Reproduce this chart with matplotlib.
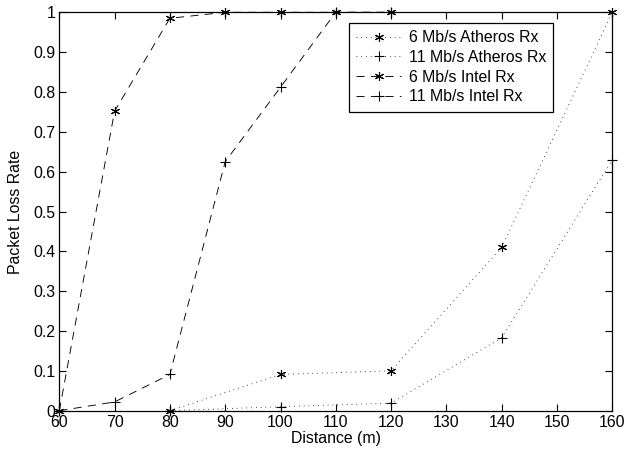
import numpy as np
import matplotlib
matplotlib.use("Agg")
import matplotlib.pyplot as plt

# packet loss vs distance, per card and rate
atheros_dist = [80, 100, 120, 140, 160]
atheros_6 = [0.0, 0.091, 0.10, 0.41, 1.0]
atheros_11 = [0.0, 0.010, 0.019, 0.183, 0.63]

intel_dist = [60, 70, 80, 90, 100, 110, 120]
intel_6 = [0.0, 0.752, 0.985, 1.0, 1.0, 1.0, 1.0]
intel_11 = [0.0, 0.022, 0.091, 0.625, 0.812, 1.0, 1.0]

xticks = list(range(60, 161, 10))
yticks = [round(0.1 * i, 1) for i in range(11)]
ytick_labels = ["0"] + [f"{v:g}" for v in yticks[1:-1]] + ["1"]

plt.rcParams["font.family"] = ["Liberation Sans", "DejaVu Sans"]
plt.rcParams["font.size"] = 11.4

ASTER = (6, 2, 0)
DOT = (0, (0.8, 4.5))
DASH = (0, (9, 7))
fig = plt.figure(figsize=(6.26, 4.51), dpi=100)
ax = fig.add_axes([59.3 / 626, 1 - 410.7 / 451, 553 / 626, 398.4 / 451])

common = dict(color="k", lw=0.65, mew=0.8, clip_on=False)
ax.plot(atheros_dist, atheros_6, ls=DOT, marker=ASTER, ms=6.5,
        label="6 Mb/s Atheros Rx", **common)
ax.plot(atheros_dist, atheros_11, ls=DOT, marker="+", ms=7.5,
        label="11 Mb/s Atheros Rx", **common)
ax.plot(intel_dist, intel_6, ls=DASH, marker=ASTER, ms=6.5,
        label="6 Mb/s Intel Rx", **common)
ax.plot(intel_dist, intel_11, ls=DASH, marker="+", ms=7.5,
        label="11 Mb/s Intel Rx", **common)

ax.set_xlim(60, 160)
ax.set_ylim(0, 1)
ax.set_xticks(xticks)
ax.set_yticks(yticks)
ax.set_yticklabels(ytick_labels)
ax.tick_params(direction="in", length=5, width=0.8, top=True, right=True, pad=3)
for s in ax.spines.values():
    s.set_linewidth(0.9)

ax.set_xlabel("Distance (m)", labelpad=1)
ax.set_ylabel("Packet Loss Rate", labelpad=7)

leg = ax.legend(loc="upper right", bbox_to_anchor=(0.893, 0.973),
                fancybox=False, edgecolor="k", framealpha=1, numpoints=1,
                handlelength=2.8, handletextpad=0.5, labelspacing=0.3,
                borderpad=0.45, borderaxespad=0)
leg.get_frame().set_linewidth(0.9)

fig.savefig("out.png", dpi=100)
